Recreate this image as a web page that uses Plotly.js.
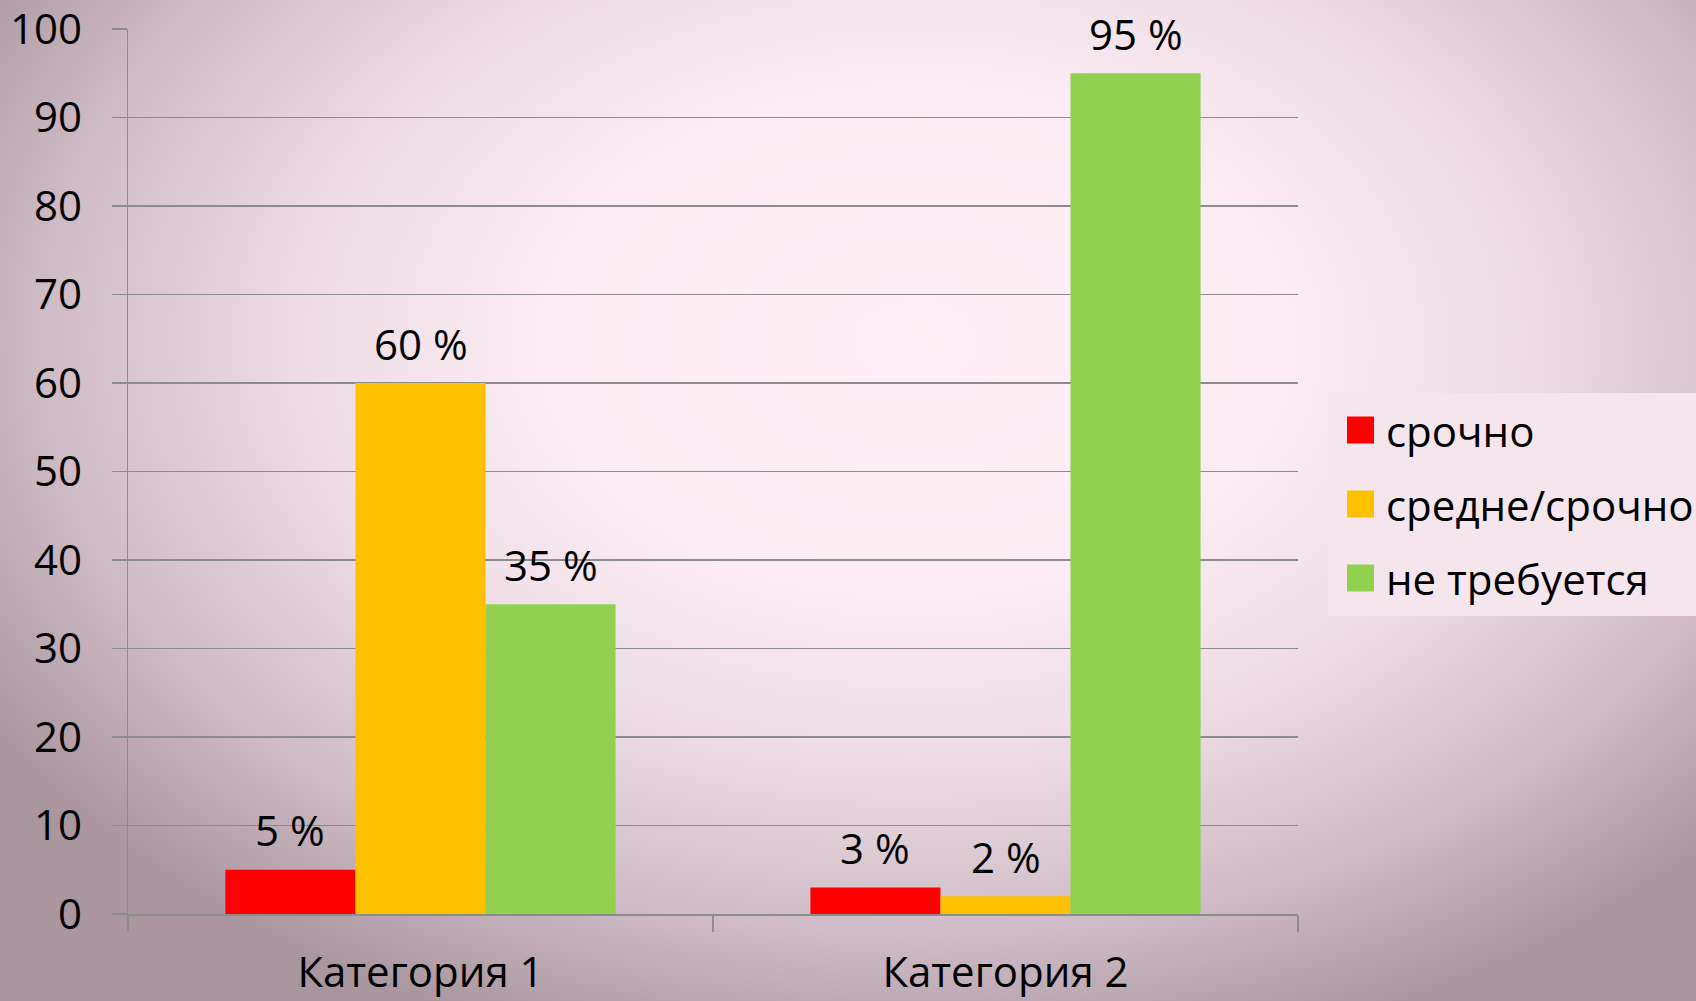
<!DOCTYPE html>
<html>
<head>
<meta charset="utf-8">
<script src="https://cdn.plot.ly/plotly-3.0.1.min.js"></script>
<style>
html,body{margin:0;padding:0;width:1696px;height:1001px;overflow:hidden;}
body{background: radial-gradient(ellipse 64% 74% at 54% 34%, #fef0f6 0%, #fbebf2 35%, #ecdbe3 58%, #cfbcc6 80%, #a9969f 100%);}
#chart{width:1696px;height:1001px;}
</style>
</head>
<body>
<div id="chart"></div>
<script>
const categories = ["Категория 1", "Категория 2"];
const seriesNames = ["срочно", "средне/срочно", "не требуется"];
const urgent = [5, 3];
const mediumUrgent = [60, 2];
const notRequired = [35, 95];
const yTicks = [0, 10, 20, 30, 40, 50, 60, 70, 80, 90, 100];
const colors = ["#ff0000", "#ffc000", "#92d050"];

const series = [urgent, mediumUrgent, notRequired];
const FONT = "Open Sans, Noto Sans, sans-serif";
const FS = 42;
const W = 1696, H = 1001;
const M = {l: 128, r: 398, t: 29, b: 87};
const pw = W - M.l - M.r, ph = H - M.t - M.b;
const px2x = p => (p - M.l) / pw;
const px2y = p => (H - M.b - p) / ph;
const bargap = 0.333;
const barW = (1 - bargap) / series.length;

const traces = series.map((vals, j) => ({
  type: "bar",
  x: categories,
  y: vals,
  name: seriesNames[j],
  marker: {color: colors[j]},
  showlegend: false,
  hoverinfo: "skip"
}));

const annotations = [];
series.forEach((vals, j) => {
  vals.forEach((v, i) => {
    annotations.push({
      x: i + (j - (series.length - 1) / 2) * barW,
      y: v, xref: "x", yref: "y",
      text: v + " %", showarrow: false,
      yanchor: "middle", yshift: 40,
      font: {family: FONT, size: FS, color: "#000"}
    });
  });
});

// legend drawn as shapes + text
const shapes = [{
  type: "rect", xref: "paper", yref: "paper",
  x0: px2x(1328), x1: px2x(1700), y0: px2y(393), y1: px2y(616),
  fillcolor: "#f4e6ec", line: {width: 0}, layer: "below"
}];
const rowY = [430, 504, 578];
seriesNames.forEach((n, j) => {
  shapes.push({
    type: "rect", xref: "paper", yref: "paper",
    x0: px2x(1347), x1: px2x(1374), y0: px2y(rowY[j] + 13.5), y1: px2y(rowY[j] - 13.5),
    fillcolor: colors[j], line: {width: 0}
  });
  annotations.push({
    xref: "paper", yref: "paper", x: px2x(1384), y: px2y(rowY[j]),
    xanchor: "left", yanchor: "middle", showarrow: false,
    text: n, font: {family: FONT, size: FS, color: "#000"}
  });
});

const layout = {
  width: W, height: H,
  margin: M,
  paper_bgcolor: "rgba(0,0,0,0)",
  plot_bgcolor: "rgba(0,0,0,0)",
  barmode: "group",
  bargap: bargap,
  bargroupgap: 0,
  showlegend: false,
  font: {family: FONT, size: FS, color: "#000"},
  xaxis: {
    type: "category",
    tickson: "boundaries",
    ticks: "outside", ticklen: 16, tickwidth: 1.5, tickcolor: "#8c8c8c",
    showline: true, linecolor: "#8c8c8c", linewidth: 1.5,
    showgrid: false, zeroline: false,
    ticklabelstandoff: 21,
    ticklabeloverflow: "allow",
    tickfont: {family: FONT, size: FS, color: "#000"}
  },
  yaxis: {
    range: [0, 100],
    tickvals: yTicks,
    ticktext: yTicks.map(String),
    ticks: "outside", ticklen: 15, tickwidth: 1.5, tickcolor: "#8c8c8c",
    showline: true, linecolor: "#8c8c8c", linewidth: 1.5,
    showgrid: true, gridcolor: "#8c8c8c", gridwidth: 1.5,
    zeroline: false,
    ticklabelstandoff: 21,
    ticklabeloverflow: "allow",
    tickfont: {family: FONT, size: FS, color: "#000"}
  },
  shapes: shapes,
  annotations: annotations
};

Plotly.newPlot("chart", traces, layout, {displayModeBar: false, staticPlot: true});
</script>
</body>
</html>
